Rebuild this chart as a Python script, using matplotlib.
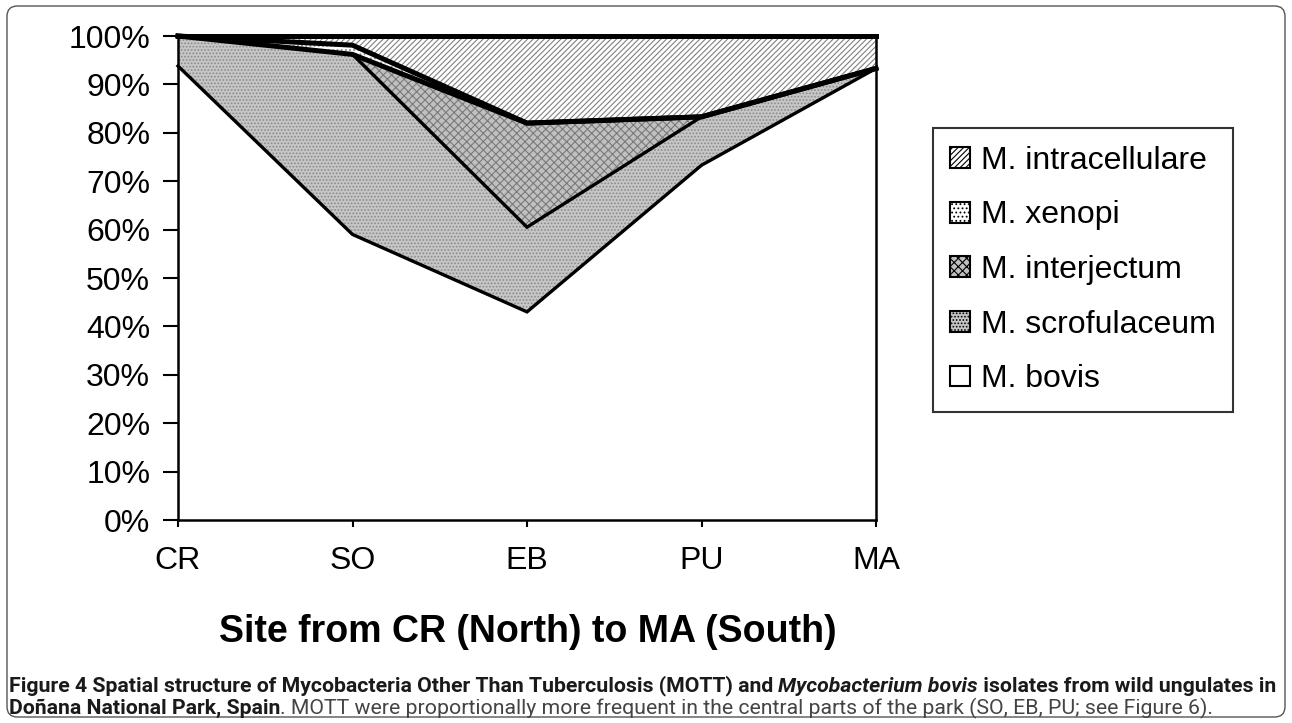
import matplotlib.pyplot as plt
from matplotlib.patches import Patch, FancyBboxPatch
from matplotlib import font_manager

# data (percent of isolates, stacked bottom -> top)
sites = ['CR', 'SO', 'EB', 'PU', 'MA']
bovis = [93.8, 59.0, 43.0, 73.3, 93.3]
scrofulaceum = [6.2, 37.2, 17.5, 10.0, 0.0]
interjectum = [0.0, 0.0, 21.5, 0.0, 0.0]
xenopi = [0.0, 1.9, 0.0, 0.0, 0.0]
intracellulare = [0.0, 1.9, 18.0, 16.7, 6.7]
y_ticks = [0, 10, 20, 30, 40, 50, 60, 70, 80, 90, 100]

names = ['M. bovis', 'M. scrofulaceum', 'M. interjectum', 'M. xenopi', 'M. intracellulare']
series = [bovis, scrofulaceum, interjectum, xenopi, intracellulare]
faces = ['white', '#c6c6c6', '#c0c0c0', 'white', 'white']
hatches = [None, '.....', 'xxxx', '....', '//////']
hcols = ['black', '#8a8a8a', '#7a7a7a', '#8a8a8a', '#808080']
lws = [2.4, 2.4, 3.6, 3.6, 3.6]

plt.rcParams['hatch.linewidth'] = 0.8
W, H = 1292, 723
fig = plt.figure(figsize=(W / 100, H / 100), dpi=100)
ax = fig.add_axes([178 / W, 1 - 520 / H, (876 - 178) / W, (520 - 36) / H])

x = list(range(len(sites)))
base = [0.0] * len(sites)
tops = []
for vals, fc, hz, hc in zip(series, faces, hatches, hcols):
    top = [b + v for b, v in zip(base, vals)]
    ax.fill_between(x, base, top, facecolor=fc, edgecolor=hc, hatch=hz, linewidth=0)
    tops.append(top)
    base = top
for top, lw in zip(tops, lws):
    ax.plot(x, top, color='black', lw=lw, solid_joinstyle='miter', clip_on=False, zorder=3)

ax.set_xlim(0, 4)
ax.set_ylim(0, 100)
ax.set_xticks(x)
ax.set_xticklabels(sites)
ax.set_yticks(y_ticks)
ax.set_yticklabels([f'{t}%' for t in y_ticks])
for lab in ax.get_xticklabels() + ax.get_yticklabels():
    lab.set_family('Liberation Sans')
    lab.set_fontsize(23)
ax.tick_params(axis='y', length=11, width=1.5, pad=9)
ax.tick_params(axis='x', length=5, width=1.5, pad=14)
for s in ax.spines.values():
    s.set_linewidth(1.8)
ax.spines['top'].set_visible(False)

fig.text(528 / W, 1 - 632 / H, 'Site from CR (North) to MA (South)', family='Liberation Sans',
         fontweight='bold', fontsize=27, ha='center', va='center')

handles = [Patch(facecolor=fc, edgecolor='black', hatch=hz, linewidth=1.5)
           for fc, hz in zip(faces, hatches)]
leg = fig.legend(handles[::-1], names[::-1], loc='center', bbox_to_anchor=(1083 / W, 1 - 270 / H),
                 prop={'family': 'Liberation Sans', 'size': 23}, frameon=True, fancybox=False,
                 edgecolor='black', borderpad=0.55, labelspacing=0.77, handlelength=0.62,
                 handleheight=0.62, handletextpad=0.34, borderaxespad=0)
leg.get_frame().set_linewidth(1.5)

# figure frame
fig.patches.append(FancyBboxPatch((7 / W, 6 / H), 1278 / W, 711 / H,
                                  boxstyle='round,pad=0,rounding_size=0.008',
                                  mutation_aspect=W / H, transform=fig.transFigure,
                                  fill=False, edgecolor='#555555', lw=1))

# caption with mixed bold / italic pieces
avail = {f.name for f in font_manager.fontManager.ttflist}
cap_fam = 'Liberation Sans Narrow' if 'Liberation Sans Narrow' in avail else 'Roboto'
renderer = fig.canvas.get_renderer()


def width(txt, size, weight, style):
    a = fig.text(0, 0, 'x' + txt + 'x', fontsize=size, fontweight=weight, fontstyle=style, family=cap_fam)
    b = fig.text(0, 0, 'xx', fontsize=size, fontweight=weight, fontstyle=style, family=cap_fam)
    w = a.get_window_extent(renderer).width - b.get_window_extent(renderer).width
    a.remove()
    b.remove()
    return w


line1 = [('Figure 4 Spatial structure of Mycobacteria Other Than Tuberculosis (MOTT) and ', 'bold', 'normal', '#1a1a1a'),
         ('Mycobacterium bovis', 'bold', 'italic', '#1a1a1a'),
         (' isolates from wild ungulates in', 'bold', 'normal', '#1a1a1a')]
line2 = [('Doñana National Park, Spain', 'bold', 'normal', '#1a1a1a'),
         ('. MOTT were proportionally more frequent in the central parts of the park (SO, EB, PU; see Figure 6).',
          'normal', 'normal', '#444444')]

w10 = sum(width(t, 10, wt, st) for t, wt, st, c in line1)
cap_size = 10 * 1273 / w10


def draw_line(pieces, y):
    xp = 9
    for t, wt, st, c in pieces:
        fig.text(xp / W, 1 - y / H, t, fontsize=cap_size, fontweight=wt, fontstyle=st,
                 family=cap_fam, color=c, ha='left', va='center')
        xp += width(t, cap_size, wt, st)


draw_line(line1, 686)
draw_line(line2, 708)

plt.savefig('out.png', dpi=100)
